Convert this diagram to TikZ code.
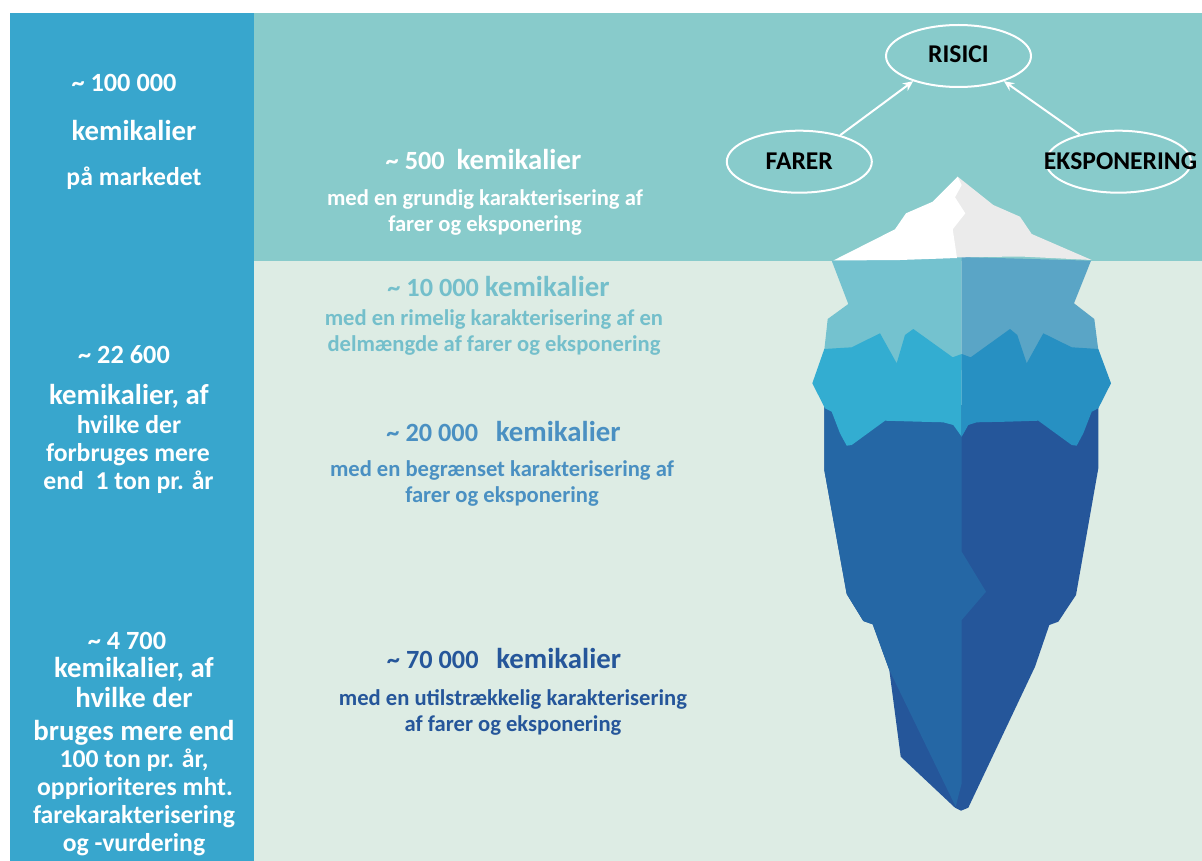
\documentclass[tikz,border=0pt]{standalone}
\usepackage{fontspec}
\setmainfont{Carlito}
\usetikzlibrary{shapes.geometric,arrows.meta}
\definecolor{barblue}{HTML}{38A6CD}
\definecolor{seatop}{HTML}{88CBCB}
\definecolor{sealow}{HTML}{DDECE4}
\definecolor{icegrey}{HTML}{EBEBEB}
\definecolor{bandAl}{HTML}{74C2CF}
\definecolor{bandAr}{HTML}{5AA5C6}
\definecolor{bandBl}{HTML}{33ADD1}
\definecolor{bandBr}{HTML}{2790C2}
\definecolor{bodyl}{HTML}{2567A5}
\definecolor{bodyr}{HTML}{25569A}
\definecolor{txtten}{HTML}{74BFCB}
\definecolor{txttwenty}{HTML}{4A90C2}
\newcommand{\wordsize}{\fontsize{28.8}{28.8}\selectfont}
\tikzset{
  lab/.style={font=\fontsize{#1}{#1}\selectfont\bfseries, anchor=base, inner sep=0pt},
  lab/.default=26,
  ring/.style={ellipse, draw=white, line width=2pt, minimum width=145pt, minimum height=62pt, inner sep=0pt, text=black, font=\fontsize{25.6}{25.6}\selectfont\bfseries},
  flow/.style={draw=white, line width=2pt, -{Stealth[length=10pt,width=9pt]}},
}
\begin{document}
\begin{tikzpicture}[x=1pt,y=-1pt]
\useasboundingbox (0,0) rectangle (1202,861);
\fill[white] (0,0) rectangle (1202,861);
\fill[sealow] (254,261) rectangle (1202,861);
\fill[seatop] (254,13) rectangle (1202,261);
\fill[barblue] (10,13) rectangle (254,861);
% body
\fill[bodyr] (824.3,405) -- (824.3,470) -- (846.7,594) -- (863.3,621) -- (872.7,624.3) -- (889.3,670) -- (900.7,756.7) -- (955,807.7) -- (961,810.7) -- (968.3,807.7) -- (1035,666.7) -- (1049.3,625) -- (1058.3,621.7) -- (1076,595) -- (1098.3,468.3) -- (1098.3,405) -- cycle;
\fill[bodyl] (824.3,405) -- (824.3,470) -- (846.7,594) -- (863.3,621) -- (872.7,624.3) -- (889.3,670) -- (955.7,806.7) -- (961.7,783) -- (961.7,620) -- (986,591.7) -- (961.7,551.7) -- (961.7,405) -- cycle;
% light band
\fill[bandAl] (831.7,260.7) -- (848.3,304) -- (827.7,319) -- (824.3,350) -- (835,350) -- (880,370) -- (961.7,370) -- (961.7,257) -- cycle;
\fill[bandAr] (1091,260.7) -- (1074,303.3) -- (1094.3,319) -- (1098.3,350) -- (1088,350) -- (1043,370) -- (961.7,370) -- (961.7,257) -- cycle;
% mid band
\fill[bandBl] (824.3,349) -- (851.7,347.3) -- (880,333.3) -- (896.7,363.3) -- (905,335) -- (913.3,329) -- (952.7,357.3) -- (961.7,354) -- (961.7,436.7) -- (953.3,425) -- (943.3,422.3) -- (920,421.7) -- (885,420.7) -- (851.7,445) -- (846.7,445.7) -- (840,433.3) -- (831.7,411.7) -- (825,408.3) -- (812.3,383.3) -- cycle;
\fill[bandBr] (961.7,354) -- (970.7,357.3) -- (1010,329) -- (1017.3,335) -- (1026.7,363.3) -- (1043.3,333.3) -- (1071.7,347.3) -- (1098.3,349) -- (1111,383.3) -- (1098.3,408.3) -- (1091.7,411.7) -- (1083.3,433.3) -- (1076.7,445.7) -- (1071.7,445) -- (1038.3,420.7) -- (1006.7,421.7) -- (976.7,422.3) -- (968.3,425) -- (961.7,436.7) -- cycle;
% tip
\fill[icegrey] (957.7,176.7) -- (993.3,205) -- (1020,216.7) -- (1031.7,234) -- (1091.7,260) -- (1020,256.5) -- (961.7,257.3) -- (930,258.5) -- (930,210) -- cycle;
\fill[white] (957.7,176.7) -- (932.7,201.7) -- (906,213.3) -- (895,229.3) -- (833.3,260.5) -- (900,260) -- (957,258) -- (952.7,229.3) -- (965.3,213.3) -- (955,197.3) -- (961.7,185) -- cycle;
% ellipses
\node[ring] (ris) at (958.5,56) {\raisebox{3pt}{RISICI}};
\node[ring] (far) at (799.3,161.7) {FARER};
\node[ring] (eks) at (1118.5,161.7) {};
\node[lab=25.6, text=black] (ekstxt) at (1120.5,169.5) {EKSPONERING};
\draw[flow] (far.33) -- (ris.209.7);
\draw[flow] (eks.145.5) -- (ris.-29);
% left bar
\begin{scope}[text=white]
\node[lab=26.3] (a1) at (124,92) {\char`\~\ 100 000};
\node[lab=28.8] (a2) at (134,141) {kemikalier};
\node[lab=25.7] (a3) at (134,186) {på markedet};
\node[lab=26.3] (b1) at (124,363) {\char`\~\ 22 600};
\node[lab=28.8] (b2) at (129,404) {kemikalier, af};
\node[lab=25.7] (b3) at (129,433) {hvilke der};
\node[lab=25.7] (b4) at (128,461) {forbruges mere};
\node[lab=25.7] (b5) at (128.5,489) {end  \ 1 ton pr. år};
\node[lab=26.3] (c1) at (127,649) {\char`\~\ 4 700};
\node[lab=28.8] (c2) at (134,677) {kemikalier, af};
\node[lab=28.8] (c3) at (134,707) {hvilke der};
\node[lab=28.8] (c4) at (134,740) {bruges mere end};
\node[lab=25.7] (c5) at (134,767) {100 ton pr. år,};
\node[lab=25.7] (c6) at (135,795) {opprioriteres mht.};
\node[lab=25.7] (c7) at (134,823) {farekarakterisering};
\node[lab=25.7] (c8) at (134,851) {og -vurdering};
% middle
\node[lab=26.3] (d1) at (483.5,170) {\char`\~\ 500 \ {\wordsize kemikalier}};
\node[lab=22.6] (d2) at (485,206) {med en grundig karakterisering af};
\node[lab=22.6] (d3) at (485,232) {farer og eksponering};
\end{scope}
\begin{scope}[text=txtten]
\node[lab=26.3] (e1) at (498.5,296) {\char`\~\ 10 000 {\wordsize kemikalier}};
\node[lab=22.6] (e2) at (494,325) {med en rimelig karakterisering af en};
\node[lab=22.6] (e3) at (494,351) {delmængde af farer og eksponering};
\end{scope}
\begin{scope}[text=txttwenty]
\node[lab=26.3] (f1) at (503.5,441) {\char`\~\ 20 000 \ \ {\wordsize kemikalier}};
\node[lab=22.6] (f2) at (502,476) {med en begrænset karakterisering af};
\node[lab=22.6] (f3) at (502,502) {farer og eksponering};
\end{scope}
\begin{scope}[text=bodyr]
\node[lab=26.3] (g1) at (504,668) {\char`\~\ 70 000 \ \ {\wordsize kemikalier}};
\node[lab=22.6] (g2) at (513,705) {med en utilstrækkelig karakterisering};
\node[lab=22.6] (g3) at (513,731) {af farer og eksponering};
\end{scope}
\end{tikzpicture}
\end{document}
